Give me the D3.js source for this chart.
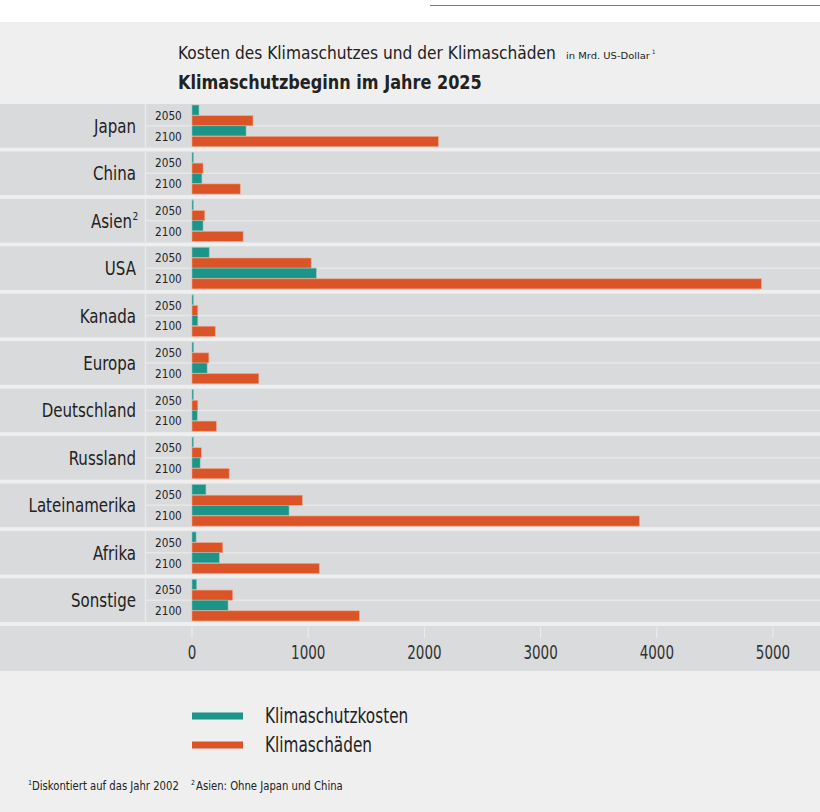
<!DOCTYPE html>
<html>
<head>
<meta charset="utf-8">
<script src="https://cdn.jsdelivr.net/npm/d3@7"></script>
<style>
  body { margin: 0; background: #efefef; }
  text { font-family: "Liberation Sans Narrow", "DejaVu Sans Condensed", sans-serif; fill: #222; }
</style>
</head>
<body>
<div id="chart"></div>
<script>
/* Data, in Mrd. US-Dollar */
var regions = ["Japan", "China", "Asien", "USA", "Kanada", "Europa", "Deutschland", "Russland", "Lateinamerika", "Afrika", "Sonstige"];
var years = ["2050", "2100"];
var schutz2050  = [60, 10, 12, 148, 8, 15, 8, 10, 120, 35, 40];
var schaden2050 = [525, 95, 110, 1025, 50, 145, 50, 80, 950, 265, 350];
var schutz2100  = [465, 85, 95, 1070, 50, 130, 45, 70, 835, 235, 310];
var schaden2100 = [2120, 415, 440, 4900, 200, 575, 210, 320, 3850, 1095, 1440];
var seriesNames = ["Klimaschutzkosten", "Klimaschäden"];
var tickValues = [0, 1000, 2000, 3000, 4000, 5000];

var W = 820, H = 812;
var teal = "#1c9488", red = "#db5427";

var svg = d3.select("#chart").append("svg").attr("width", W).attr("height", H);

/* squeeze text horizontally (the original uses a condensed face) */
function condense(sel, f) {
    sel.each(function() {
        var t = d3.select(this);
        var tx = +t.attr("x"), ty = +t.attr("y");
        t.attr("x", 0).attr("y", 0)
         .attr("transform", "translate(" + tx + "," + ty + ") scale(" + f + ",1)");
    });
}

/* text squeezed to a fixed width */
function label(x, y, size, txt, len) {
    var t = svg.append("text").attr("x", x).attr("y", y).style("font-size", size + "px").text(txt);
    if (len) condense(t, len / t.node().getComputedTextLength());
    return t;
}

/* background + white strip on top */
svg.append("rect").attr("width", W).attr("height", H).attr("fill", "#efefef");
svg.append("rect").attr("width", W).attr("height", 22).attr("fill", "#ffffff");
svg.append("line").attr("x1", 430).attr("x2", W).attr("y1", 5.5).attr("y2", 5.5)
    .attr("stroke", "#6b6bd8").attr("stroke-width", 1);

/* titles */
label(178, 59, 18, "Kosten des Klimaschutzes und der Klimaschäden", 378);
label(566, 59, 9, "in Mrd. US-Dollar", 84);
label(652, 54, 6, "1");
label(178, 89, 20, "Klimaschutzbeginn im Jahre 2025").style("font-weight", "bold");
svg.selectAll("text").filter(function() { return this.textContent == "Klimaschutzbeginn im Jahre 2025"; })
    .each(function() { condense(d3.select(this), 304 / this.getComputedTextLength()); });

/* scales */
var x = d3.scaleLinear().domain([0, 5000]).range([192, 773]);
var yGroup = d3.scaleBand().domain(regions).range([104, 622]).paddingInner(0.08);
var yYear = d3.scaleBand().domain(years).range([0, yGroup.bandwidth()]).paddingOuter(0.05);
var ySeries = d3.scaleBand().domain(seriesNames).range([0, yYear.bandwidth()]).paddingInner(0.05);

/* group bands */
var groups = svg.selectAll("g.region")
    .data(regions)
    .enter().append("g")
    .attr("class", "region")
    .attr("transform", function(d) { return "translate(0," + yGroup(d) + ")"; });

groups.append("rect")
    .attr("width", W)
    .attr("height", yGroup.bandwidth())
    .attr("fill", "#d9dadc");

// thin line between the 2050 and 2100 row
groups.append("line")
    .attr("x1", 145).attr("x2", W)
    .attr("y1", yGroup.bandwidth() / 2).attr("y2", yGroup.bandwidth() / 2)
    .attr("stroke", "#e6e7e8").attr("stroke-width", 1.5);

// vertical divider between the label column and the years
groups.append("line")
    .attr("x1", 145.5).attr("x2", 145.5)
    .attr("y1", 0).attr("y2", yGroup.bandwidth())
    .attr("stroke", "#e9e9ea").attr("stroke-width", 1.5);

/* region labels */
var regionText = groups.append("text")
    .attr("class", "region-label")
    .attr("x", function(d) { return d == "Asien" ? 132 : 136; })
    .attr("y", yGroup.bandwidth() / 2 + 7)
    .attr("text-anchor", "end")
    .style("font-size", "19px")
    .text(function(d) { return d; });
condense(regionText, 0.88);

// superscript for Asien
groups.filter(function(d) { return d == "Asien"; })
    .append("text")
    .attr("x", 132.5)
    .attr("y", yGroup.bandwidth() / 2 - 1)
    .style("font-size", "10px")
    .text("2");

/* year labels */
var yearLabels = groups.selectAll("text.year")
    .data(years)
    .enter().append("text")
    .attr("class", "year")
    .attr("x", 155)
    .attr("y", function(d) { return yYear(d) + yYear.bandwidth() / 2 + 4.5; })
    .style("font-size", "13px")
    .text(function(d) { return d; });
condense(yearLabels, 0.9);

/* bars */
var table = regions.map(function(r, i) {
    return [
        {year: "2050", s: seriesNames[0], v: schutz2050[i]},
        {year: "2050", s: seriesNames[1], v: schaden2050[i]},
        {year: "2100", s: seriesNames[0], v: schutz2100[i]},
        {year: "2100", s: seriesNames[1], v: schaden2100[i]}
    ];
});

groups.selectAll("rect.bar")
    .data(function(d, i) { return table[i]; })
    .enter().append("rect")
    .attr("class", "bar")
    .attr("x", x(0))
    .attr("y", function(d) { return yYear(d.year) + ySeries(d.s); })
    .attr("width", function(d) { return Math.max(1.5, x(d.v) - x(0)); })
    .attr("height", ySeries.bandwidth())
    .attr("fill", function(d) { return d.s == seriesNames[0] ? teal : red; })
    .attr("stroke", function(d) { return d.s == seriesNames[0] ? "#8cc7c0" : "#f0a58a"; })
    .attr("stroke-width", 0.6);

/* axis band */
svg.append("rect")
    .attr("x", 0).attr("y", 626)
    .attr("width", W).attr("height", 45)
    .attr("fill", "#dadbdd");

var axis = svg.append("g").attr("class", "axis");
axis.selectAll("line")
    .data(tickValues)
    .enter().append("line")
    .attr("x1", x).attr("x2", x)
    .attr("y1", 627).attr("y2", 638)
    .attr("stroke", "#eeeeee").attr("stroke-width", 1);
var tickText = axis.selectAll("text")
    .data(tickValues)
    .enter().append("text")
    .attr("x", x)
    .attr("y", 659)
    .attr("text-anchor", "middle")
    .style("font-size", "20px")
    .style("fill", "#333")
    .text(function(d) { return d; });
condense(tickText, 0.75);

/* legend */
var legend = svg.append("g").selectAll("g")
    .data(seriesNames)
    .enter().append("g")
    .attr("transform", function(d, i) { return "translate(0," + (716 + i * 29) + ")"; });

legend.append("line")
    .attr("x1", 192).attr("x2", 243)
    .attr("stroke", function(d, i) { return i == 0 ? teal : red; })
    .attr("stroke-width", 7);

var legText = legend.append("text")
    .attr("x", 265).attr("y", 7)
    .style("font-size", "21px")
    .text(function(d) { return d; });
condense(legText, 0.81);

/* footnotes */
label(28, 785, 7, "1");
label(32, 790, 13, "Diskontiert auf das Jahr 2002", 147);
label(191, 785, 7, "2");
label(196, 790, 13, "Asien: Ohne Japan und China", 147);
</script>
</body>
</html>
